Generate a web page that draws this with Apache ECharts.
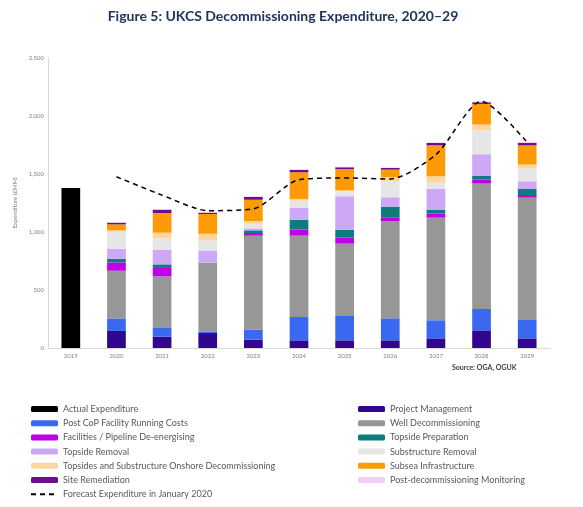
<!DOCTYPE html>
<html>
<head>
<meta charset="utf-8">
<script src="https://cdn.jsdelivr.net/npm/echarts@6/dist/echarts.min.js"></script>
<style>
  html, body { margin: 0; padding: 0; background: #ffffff; }
  #chart { width: 583px; height: 507px; }
</style>
</head>
<body>
<div id="chart"></div>
<script>
const years = ['2019','2020','2021','2022','2023','2024','2025','2026','2027','2028','2029'];
const yTicks = [0, 500, 1000, 1500, 2000, 2500];

const actualExpenditure = [1380, '-', '-', '-', '-', '-', '-', '-', '-', '-', '-'];
const projectManagement = ['-', 147, 97, 129, 72, 66, 66, 66, 83, 152, 83];
const postCopRunning    = ['-', 108, 81, 12, 86, 201, 210, 190, 156, 184, 164];
const wellDecom         = ['-', 411, 439, 597, 810, 702, 624, 839, 885, 1081, 1049];
const facilitiesDeEnerg = ['-', 72, 73, 0, 23, 51, 51, 32, 34, 34, 23];
const topsidePrep       = ['-', 32, 31, 0, 23, 86, 69, 92, 35, 35, 52];
const topsideRemoval    = ['-', 86, 126, 103, 17, 101, 288, 80, 178, 184, 66];
const substructureRem   = ['-', 146, 98, 84, 40, 63, 43, 138, 57, 207, 112];
const onshoreDecom      = ['-', 12, 49, 60, 24, 15, 8, 37, 52, 49, 32];
const subseaInfra       = ['-', 52, 170, 170, 183, 230, 184, 64, 267, 178, 166];
const siteRemediation   = ['-', 14, 28, 11, 24, 20, 15, 14, 20, 14, 20];
const postDecomMonitor  = ['-', 5, 4, 3, 4, 5, 4, 4, 5, 7, 10];
const forecastJan2020   = ['-', 1476, 1318, 1184, 1200, 1451, 1466, 1457, 1667, 2127, 1773];

const FONT = 'Lato, "Open Sans", sans-serif';

const stackDefs = [
  ['Actual Expenditure', actualExpenditure, '#000000'],
  ['Project Management', projectManagement, '#32078f'],
  ['Post CoP Facility Running Costs', postCopRunning, '#3a68f0'],
  ['Well Decommissioning', wellDecom, '#979797'],
  ['Facilities / Pipeline De-energising', facilitiesDeEnerg, '#bf00e6'],
  ['Topside Preparation', topsidePrep, '#0c7c7c'],
  ['Topside Removal', topsideRemoval, '#cca8f7'],
  ['Substructure Removal', substructureRem, '#e6e6e6'],
  ['Topsides and Substructure Onshore Decommissioning', onshoreDecom, '#fcd5a0'],
  ['Subsea Infrastructure', subseaInfra, '#fd9a06'],
  ['Site Remediation', siteRemediation, '#6a0d91'],
  ['Post-decommissioning Monitoring', postDecomMonitor, '#f2cdf7']
];

const series = stackDefs.map(([name, data, color]) => ({
  name, type: 'bar', stack: 'total', data,
  barWidth: '41%',
  itemStyle: { color },
  emphasis: { disabled: true }
}));
series.push({
  name: 'Forecast Expenditure in January 2020',
  type: 'line',
  data: forecastJan2020,
  smooth: 0.25,
  symbol: 'none',
  z: 10,
  itemStyle: { color: '#000000' },
  lineStyle: { color: '#000000', width: 1.5, type: [5, 4] }
});

const legendText = { fontFamily: FONT, fontSize: 9, color: '#595959', lineHeight: 12 };

const chart = echarts.init(document.getElementById('chart'), null, { renderer: 'canvas' });
chart.setOption({
  animation: false,
  backgroundColor: '#ffffff',
  title: {
    text: 'Figure 5: UKCS Decommissioning Expenditure, 2020\u201329',
    left: 278, top: 4, textAlign: 'center',
    textStyle: { fontFamily: FONT, fontWeight: 'bold', fontSize: 14, color: '#203460' }
  },
  grid: { left: 48, right: 33, top: 58, height: 290 },
  xAxis: {
    type: 'category', data: years,
    axisLine: { lineStyle: { color: '#d9d9d9' } },
    axisTick: { show: false },
    axisLabel: { fontFamily: FONT, fontSize: 6, color: '#7f7f7f', margin: 5 }
  },
  yAxis: {
    type: 'value', min: yTicks[0], max: yTicks[yTicks.length - 1], interval: yTicks[1] - yTicks[0],
    name: 'Expenditure (\u00a3MM)', nameLocation: 'middle', nameGap: 28,
    nameTextStyle: { fontFamily: FONT, fontSize: 6, color: '#7f7f7f' },
    axisLine: { show: true, lineStyle: { color: '#d9d9d9' } },
    axisTick: { show: false },
    splitLine: { show: false },
    axisLabel: {
      fontFamily: FONT, fontSize: 6, color: '#7f7f7f', margin: 4,
      formatter: v => v.toLocaleString('en-US')
    }
  },
  legend: [
    {
      orient: 'vertical', left: 30, top: 403, padding: 0, itemWidth: 27, itemHeight: 6, itemGap: 2.2,
      textStyle: legendText,
      data: ['Actual Expenditure', 'Post CoP Facility Running Costs', 'Facilities / Pipeline De-energising',
             'Topside Removal', 'Topsides and Substructure Onshore Decommissioning', 'Site Remediation',
             { name: 'Forecast Expenditure in January 2020', itemStyle: { color: 'rgba(0,0,0,0)', borderWidth: 0 } }]
    },
    {
      orient: 'vertical', left: 358, top: 403, padding: 0, itemWidth: 27, itemHeight: 6, itemGap: 2.2,
      textStyle: legendText,
      data: ['Project Management', 'Well Decommissioning', 'Topside Preparation',
             'Substructure Removal', 'Subsea Infrastructure', 'Post-decommissioning Monitoring']
    }
  ],
  graphic: [{
    type: 'text', left: 452, top: 364,
    style: { text: 'Source: OGA, OGUK', fontFamily: FONT, fontSize: 7, fontWeight: 'bold', fill: '#404040' }
  }],
  series
});
</script>
</body>
</html>
